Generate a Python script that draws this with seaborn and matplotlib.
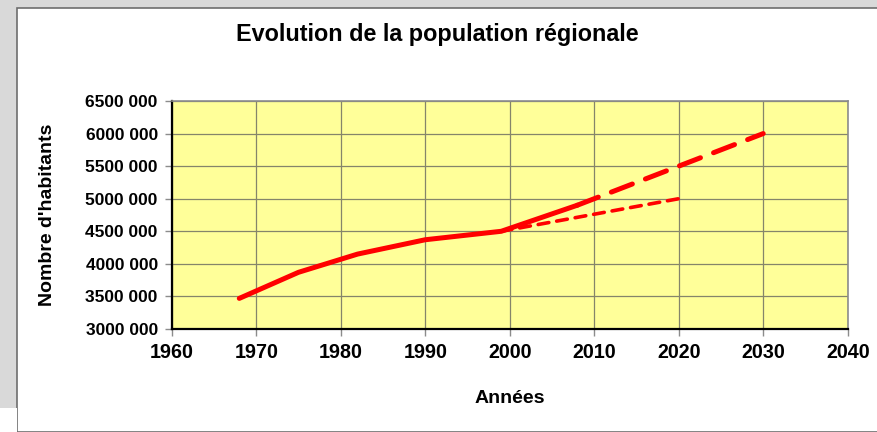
import matplotlib
matplotlib.use("Agg")
import matplotlib.pyplot as plt
from matplotlib.patches import Rectangle
from matplotlib.ticker import FuncFormatter
import seaborn as sns
import pandas as pd

# Data
obs_years = [1968, 1975, 1982, 1990, 1999, 2008]
obs_values = [3470000, 3870000, 4150000, 4370000, 4500000, 4900000]
high_years = [2008, 2020, 2030]
high_values = [4900000, 5500000, 6000000]
low_years = [1999, 2020]
low_values = [4500000, 5000000]
x_ticks = [1960, 1970, 1980, 1990, 2000, 2010, 2020, 2030, 2040]
y_ticks = [3000000, 3500000, 4000000, 4500000, 5000000, 5500000, 6000000, 6500000]

sns.set_theme(style="white")
plt.rcParams['font.family'] = ['Liberation Sans', 'DejaVu Sans']
plt.rcParams['text.color'] = 'black'
plt.rcParams['axes.labelcolor'] = 'black'

W, H = 877, 432
fig = plt.figure(figsize=(W / 100, H / 100), dpi=100)
fig.patch.set_facecolor('#d9d9d9')

# white chart panel
fig.add_artist(Rectangle((17 / W, 0), 1, 1 - 8 / H, transform=fig.transFigure,
                         facecolor='white', edgecolor='#6e6e6e', lw=1.2, zorder=0))
fig.add_artist(Rectangle((0, 0), 16.5 / W, (H - 408) / H, transform=fig.transFigure,
                         facecolor='white', edgecolor='none', lw=0, zorder=0))

ax = fig.add_axes([171.7 / W, 1 - 329 / H, (847.7 - 171.7) / W, (329 - 101) / H])
ax.set_facecolor('#ffff99')

df_obs = pd.DataFrame({'year': obs_years, 'pop': obs_values})
df_high = pd.DataFrame({'year': high_years, 'pop': high_values})
df_low = pd.DataFrame({'year': low_years, 'pop': low_values})

sns.lineplot(data=df_low, x='year', y='pop', ax=ax, color='#ff0000', lw=2.6,
             zorder=3)
ax.lines[-1].set_linestyle((0, (3.0, 2.2)))
ax.lines[-1].set_dash_capstyle('round')
sns.lineplot(data=df_high, x='year', y='pop', ax=ax, color='#ff0000', lw=3.6,
             zorder=3)
ax.lines[-1].set_linestyle((0, (4.5, 2.8)))
ax.lines[-1].set_dash_capstyle('round')
sns.lineplot(data=df_obs, x='year', y='pop', ax=ax, color='#ff0000', lw=3.6,
             zorder=4)
ax.lines[-1].set_solid_capstyle('round')
ax.lines[-1].set_solid_joinstyle('round')

ax.set_xlim(1960, 2040)
ax.set_ylim(3000000, 6500000)
ax.set_xticks(x_ticks)
ax.set_yticks(y_ticks)
ax.yaxis.set_major_formatter(FuncFormatter(
    lambda v, p: f"{int(v) // 1000} {int(v) % 1000:03d}"))
ax.grid(True, color='#85856a', lw=0.9)
ax.set_axisbelow(True)

for s in ['top', 'right']:
    ax.spines[s].set_color('#8c8c8c')
    ax.spines[s].set_linewidth(1.2)
for s in ['left', 'bottom']:
    ax.spines[s].set_color('black')
    ax.spines[s].set_linewidth(1.6)

ax.tick_params(axis='both', which='major', direction='out', length=5,
               color='#8c8c8c', width=1, bottom=True, left=True,
               labelcolor='black')
ax.tick_params(axis='x', labelsize=14.2, pad=5)
ax.tick_params(axis='y', labelsize=12.5, pad=5)
for lab in ax.get_xticklabels() + ax.get_yticklabels():
    lab.set_fontweight('bold')

ax.set_xlabel('Années', fontsize=14, fontweight='bold', labelpad=20, color='black')
ax.set_ylabel("Nombre d'habitants", fontsize=14, fontweight='bold', labelpad=21,
              color='black')

fig.text(437 / W, 1 - 35 / H, 'Evolution de la population régionale',
         ha='center', va='center', fontsize=16.8, fontweight='bold', color='black')

fig.savefig('out.png', dpi=100)
